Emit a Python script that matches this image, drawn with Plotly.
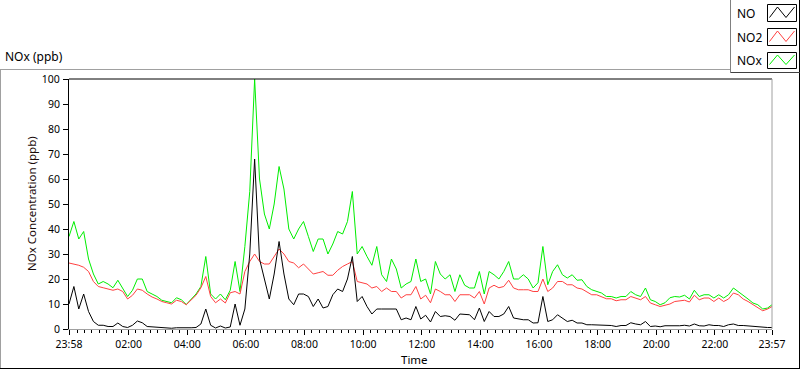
import pandas as pd
import plotly.graph_objects as go

# ---------------- data (10-minute samples) ----------------
start_time = "2024-01-01 23:58"
end_time = "2024-01-02 23:57"

no = [
    10, 17, 8, 14, 7, 3, 1.5, 1.5, 1, 1, 2.4, 1, 0.6, 1.5, 3.2, 2.5, 1, 0.8, 0.6, 0.4, 0.3, 0.3, 0.5, 0.4,
    0.4, 0.5, 0.6, 2, 8, 1.5, 0.4, 1.2, 0.4, 0.8, 10, 1.5, 8, 30, 68, 28, 20, 12, 22, 35, 22, 12, 9.7, 14,
    14, 13, 9, 12, 8.4, 9, 13.7, 16, 15, 20, 29, 11, 13, 9, 6, 8, 8, 8, 8, 8, 3.7, 4.4, 3.7, 9,
    4, 5.5, 2.8, 7, 5, 5.3, 5, 3.5, 6, 5.7, 5.7, 3.7, 8.4, 3, 7, 5, 5, 6, 9, 4.4, 4, 3.7, 3.7, 2.4,
    2.5, 13, 3, 3.7, 5.7, 4.4, 3, 3.5, 2.4, 2.4, 1.7, 1.7, 1.7, 1.4, 1.4, 1.4, 1, 1.4, 1.4, 2.5, 2, 1.7, 3, 1,
    1.2, 0.9, 1.3, 1.2, 1.3, 1.3, 1.5, 1.2, 2, 1.3, 1.2, 1.7, 1.4, 1.4, 1, 1.7, 2, 1.4, 1.4, 1.2, 1, 1, 0.8, 0.6,
    0.6,
]
no2 = [
    26.4, 26, 25.5, 24.7, 23, 19, 17, 16.5, 16, 15.5, 16, 15, 12, 13.5, 16, 15.5, 14, 12.8, 12, 11, 10.5, 10, 11.5, 11,
    9.7, 11.5, 13.5, 16.5, 21, 13, 10.5, 12, 10.4, 14.5, 15, 14, 23, 27, 30, 27, 26, 26, 29, 32, 30, 27, 26.4, 24.5,
    26, 24, 22, 22.5, 23, 21.5, 21.5, 23.5, 25, 26, 27, 19, 18.5, 18, 16.4, 17, 15, 16.4, 15, 15, 12.4, 13.7, 13.7, 17,
    12, 13.5, 10.5, 16, 15, 13.7, 13.7, 11, 13.7, 13.7, 13.7, 12.4, 15, 10, 16.4, 17.5, 16.5, 17, 19.5, 16.4, 15.7, 15.7, 15.7, 15,
    15, 20, 15, 16.4, 19, 19, 17.7, 17.7, 16.4, 16, 15, 13.7, 13.7, 13, 12.1, 12.1, 11.3, 11.7, 11.7, 13, 12.4, 11.7, 13, 10.4,
    9.7, 9, 9.5, 10, 11, 11.3, 11.5, 10.8, 13.5, 11.7, 12.4, 12.4, 11, 12.4, 11, 12, 14.4, 13.7, 12, 11, 9.7, 8.4, 7.3, 8,
    9,
]
nox = [
    37, 43, 36, 39, 28, 22, 18, 19, 18, 16.5, 19.5, 16, 13, 15.5, 20, 20, 15, 14, 13, 11.5, 11, 10.5, 12.5, 11.7,
    9.8, 12, 14, 17, 29, 14, 12, 14, 11.7, 15.5, 27, 15, 33, 55, 100, 60, 46, 40, 50, 65, 56, 40, 36, 40,
    43, 37, 31, 36, 36, 30, 34, 39, 38, 43, 55, 30, 33, 29, 25.5, 33, 21.7, 19, 28, 24, 16.4, 18, 19, 28,
    19, 20, 14, 27, 22, 20, 21.7, 15, 21.7, 17.5, 16.4, 16.4, 23, 14, 23, 21.7, 20, 23, 27, 20, 20, 21.7, 20, 16.4,
    18.5, 33, 17.7, 23, 25.7, 21.7, 20.4, 21.7, 19.5, 19.7, 17, 15.7, 15, 14.4, 13, 13, 12.4, 13, 13, 15, 13.7, 13, 16.4, 11.7,
    11, 9.7, 10.5, 12.5, 13, 12.8, 13.5, 12, 15.5, 13, 13.7, 13.7, 12.4, 13.7, 12.4, 13.7, 16.4, 15, 13.3, 12, 10.4, 9.7, 8, 8.4,
    9.7,
]

tick_labels = ["23:58", "02:00", "04:00", "06:00", "08:00", "10:00", "12:00",
               "14:00", "16:00", "18:00", "20:00", "22:00", "23:57"]
y_ticks = [0, 10, 20, 30, 40, 50, 60, 70, 80, 90, 100]
series_names = ["NO", "NO2", "NOx"]

# times of the samples
times = list(pd.date_range(start_time, periods=len(no) - 1, freq="10min")) + [pd.Timestamp(end_time)]

# tick positions
t0 = pd.Timestamp(start_time)
t1 = pd.Timestamp(end_time)
day = pd.Timestamp("2024-01-02")
major_vals = [t0] + [day + pd.Timedelta(hours=h) for h in range(2, 24, 2)] + [t1]
minor_vals = [day + pd.Timedelta(minutes=m) for m in range(0, 24 * 60, 15)]

# ---------------- layout geometry ----------------
FW, FH = 800, 369
L, R, T, B = 69, 28, 79, 40
W = FW - L - R
H = FH - T - B


def px(x):
    return (x - L) / W


def py(y):
    return (FH - B - y) / H


FONT = "Noto Sans"
C_NO, C_NO2, C_NOX = "#000000", "#ff4040", "#00ee00"

fig = go.Figure()
fig.add_trace(go.Scatter(x=times, y=nox, mode="lines", name=series_names[2],
                         line=dict(color=C_NOX, width=1), showlegend=False))
fig.add_trace(go.Scatter(x=times, y=no2, mode="lines", name=series_names[1],
                         line=dict(color=C_NO2, width=1), showlegend=False))
fig.add_trace(go.Scatter(x=times, y=no, mode="lines", name=series_names[0],
                         line=dict(color=C_NO, width=1), showlegend=False))

shapes = []


def line(x0, y0, x1, y1, color, width=1):
    shapes.append(dict(type="line", xref="paper", yref="paper",
                       x0=px(x0), y0=py(y0), x1=px(x1), y1=py(y1),
                       line=dict(color=color, width=width), layer="above"))


# plot area borders
shapes.append(dict(type="line", xref="paper", yref="paper", x0=0, x1=1, y0=1, y1=1,
                   line=dict(color="black", width=1)))
shapes.append(dict(type="line", xref="paper", yref="paper", x0=1, x1=1, y0=0, y1=1,
                   line=dict(color="#a0a0a0", width=1)))
# outer frame
line(0, 69.5, 730, 69.5, "#a0a0a0")
line(0.5, 69.5, 0.5, 369, "#a0a0a0")
line(0, 368.5, 800, 368.5, "#000000")
line(799.5, 0, 799.5, 369, "#000000")
# legend box
line(730.5, 0, 730.5, 72.5, "#808080")
line(730.5, 72.5, 800, 72.5, "#404040")

annotations = []
legend_rows = [(4, 21, 13), (28, 45, 37), (52, 68, 61)]
colors = [C_NO, C_NO2, C_NOX]
for (ytop, ybot, yc), name, col in zip(legend_rows, series_names, colors):
    shapes.append(dict(type="rect", xref="paper", yref="paper",
                       x0=px(767.5), x1=px(796.5), y0=py(ybot + 0.5), y1=py(ytop + 0.5),
                       line=dict(color="black", width=1), fillcolor="white", layer="above"))
    pts = [(769.5, ybot - 3.5), (777.5, ytop + 3), (786, ybot - 3.5), (794.5, ytop + 3)]
    path = "M " + " L ".join(f"{px(a)},{py(b)}" for a, b in pts)
    shapes.append(dict(type="path", xref="paper", yref="paper", path=path,
                       line=dict(color=col, width=1), layer="above"))
    annotations.append(dict(text=name, xref="paper", yref="paper", x=px(735), y=py(yc),
                            xanchor="left", yanchor="middle", showarrow=False,
                            font=dict(family=FONT, size=12, color="black")))

annotations.append(dict(text="NOx (ppb)", xref="paper", yref="paper", x=px(3), y=py(57),
                        xanchor="left", yanchor="middle", showarrow=False,
                        font=dict(family=FONT, size=12, color="black")))
annotations.append(dict(text="NOx Concentration (ppb)", xref="paper", yref="paper",
                        x=px(31), y=py(204), textangle=-90,
                        xanchor="center", yanchor="middle", showarrow=False,
                        font=dict(family=FONT, size=11.5, color="#1a0a0a")))
annotations.append(dict(text="Time", xref="paper", yref="paper", x=px(414), y=py(359),
                        xanchor="center", yanchor="middle", showarrow=False,
                        font=dict(family=FONT, size=11.5, color="black")))

fig.update_layout(
    width=FW, height=FH,
    margin=dict(l=L, r=R, t=T, b=B, pad=0),
    paper_bgcolor="white", plot_bgcolor="white",
    showlegend=False,
    shapes=shapes, annotations=annotations,
    font=dict(family=FONT, size=11, color="black"),
    xaxis=dict(
        type="date", range=[t0, t1], automargin=False,
        tickmode="array", tickvals=major_vals, ticktext=tick_labels,
        ticks="outside", ticklen=5, tickwidth=1, tickcolor="black",
        showline=True, linecolor="#a0a0a0", linewidth=1,
        showgrid=False, zeroline=False,
        tickfont=dict(family=FONT, size=10.5, color="black"),
        minor=dict(tickmode="array", tickvals=minor_vals, ticks="outside",
                   ticklen=3, tickwidth=1, tickcolor="black", showgrid=False),
    ),
    yaxis=dict(
        range=[0, 100], automargin=False,
        tickmode="array", tickvals=y_ticks,
        ticks="outside", ticklen=5, tickwidth=1, tickcolor="black",
        ticklabelstandoff=1,
        showline=True, linecolor="black", linewidth=1,
        showgrid=False, zeroline=False,
        tickfont=dict(family=FONT, size=10.5, color="black"),
    ),
)

fig.write_html("out.html", config={"displayModeBar": False},
               post_script="document.body.style.margin='0px';")
